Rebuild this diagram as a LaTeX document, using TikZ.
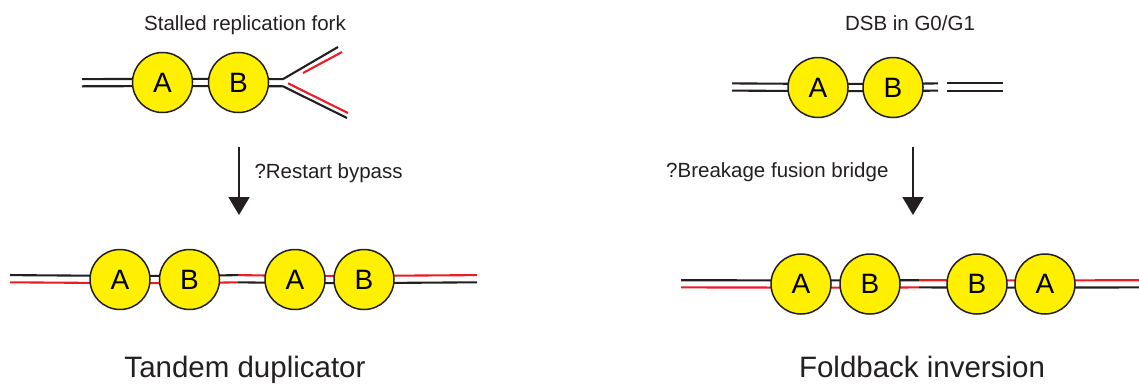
\documentclass[tikz,border=0pt]{standalone}
\usepackage{fontspec}
\setmainfont{Liberation Sans}
\usetikzlibrary{arrows.meta,backgrounds}
\definecolor{locusyellow}{RGB}{255,240,0}
\definecolor{strandred}{RGB}{237,28,36}
\definecolor{ink}{RGB}{35,31,32}
\tikzset{
  locus/.style={circle, draw=ink, line width=1.5pt, fill=locusyellow,
    minimum size=60pt, inner sep=0pt, font=\fontsize{28}{28}\selectfont},
  strand/.style={line width=2.1pt, draw=ink},
  rstrand/.style={line width=2.1pt, draw=strandred},
  caption/.style={anchor=base, font=\fontsize{20.5}{20.5}\selectfont, text=ink},
  heading/.style={anchor=base, font=\fontsize{29.5}{29.5}\selectfont, text=ink},
  pathway/.style={line width=1.9pt, draw=ink, -{Triangle[width=21pt,length=18pt]}},
  up/.style={yshift=3.6pt},
  dn/.style={yshift=-3.6pt}
}
\begin{document}
\begin{tikzpicture}[x=1pt,y=-1pt]
\useasboundingbox (0,0) rectangle (1139,386);

% ---------- stalled replication fork ----------
\node[caption] (t1) at (245,30.5) {Stalled replication fork};
\coordinate (tlL) at (82,82.7);
\coordinate (fork) at (283,82.7);
\coordinate (armU) at (338,47);
\coordinate (armD) at (347,118);
\coordinate (redU1) at (303,73);
\coordinate (redU2) at (342,52);
\coordinate (redD1) at (288,83.3);
\coordinate (redD2) at (348,113);
\node[locus] (tA) at (162.5,82.5) {A};
\node[locus] (tB) at (238.5,82.5) {B};
\begin{scope}[on background layer]
  \draw[strand] ([up]tlL) -- ([up]tA.center) -- ([up]tB.center) -- ([up]fork) -- (armU);
  \draw[strand] ([dn]tlL) -- ([dn]tA.center) -- ([dn]tB.center) -- ([dn]fork) -- (armD);
  \draw[rstrand] (redU1) -- (redU2);
  \draw[rstrand] (redD1) -- (redD2);
\end{scope}

\coordinate (p1) at (239,147);
\coordinate (p2) at (239,215);
\draw[pathway] (p1) -- (p2);
\node[caption, anchor=base west] (l1) at (251,178) {?Restart bypass};

% ---------- tandem duplicator ----------
\coordinate (bL) at (10,278.7);
\coordinate (bS) at (238,278.7);
\coordinate (bR) at (477,278.7);
\node[locus] (a1) at (120,279.5) {A};
\node[locus] (b1) at (189.5,279.5) {B};
\node[locus] (a2) at (295,279.5) {A};
\node[locus] (b2) at (364,279.5) {B};
\begin{scope}[on background layer]
  \draw[strand]  ([up]bL) -- ([up]a1.center) -- ([up]b1.center) -- ([up]bS);
  \draw[rstrand] ([dn]bL) -- ([dn]a1.center) -- ([dn]b1.center) -- ([dn]bS);
  \draw[rstrand] ([up]bS) -- ([up]a2.center) -- ([up]b2.center) -- ([up]bR);
  \draw[strand]  ([dn]bS) -- ([dn]a2.center) -- ([dn]b2.center) -- ([dn]bR);
\end{scope}
\node[heading] (h1) at (245,377) {Tandem duplicator};

% ---------- DSB in G0/G1 ----------
\node[caption] (t2) at (910,30) {DSB in G0/G1};
\coordinate (dL) at (732,87);
\coordinate (dE) at (938,87);
\coordinate (dS) at (947,87);
\coordinate (dR) at (1003,87);
\node[locus] (dA) at (818,87.5) {A};
\node[locus] (dB) at (893,87.5) {B};
\begin{scope}[on background layer]
  \draw[strand] ([up]dL) -- ([up]dA.center) -- ([up]dB.center) -- ([up]dE);
  \draw[strand] ([dn]dL) -- ([dn]dA.center) -- ([dn]dB.center) -- ([dn]dE);
  \draw[strand] ([up]dS) -- ([up]dR);
  \draw[strand] ([dn]dS) -- ([dn]dR);
\end{scope}

\coordinate (q1) at (913,147);
\coordinate (q2) at (913,215);
\draw[pathway] (q1) -- (q2);
\node[caption, anchor=base east] (l2) at (892,177) {?Breakage fusion bridge};

% ---------- foldback inversion ----------
\coordinate (fL) at (681,283.8);
\coordinate (fS) at (919,283.8);
\coordinate (fR) at (1139,283.8);
\node[locus] (c1) at (801,284) {A};
\node[locus] (c2) at (870,284) {B};
\node[locus] (c3) at (977,284) {B};
\node[locus] (c4) at (1045,284) {A};
\begin{scope}[on background layer]
  \draw[strand]  ([up]fL) -- ([up]c1.center) -- ([up]c2.center) -- ([up]fS);
  \draw[rstrand] ([dn]fL) -- ([dn]c1.center) -- ([dn]c2.center) -- ([dn]fS);
  \draw[rstrand] ([up]fS) -- ([up]c3.center) -- ([up]c4.center) -- ([up]fR);
  \draw[strand]  ([dn]fS) -- ([dn]c3.center) -- ([dn]c4.center) -- ([dn]fR);
\end{scope}
\node[heading] (h2) at (922,377) {Foldback inversion};
\end{tikzpicture}
\end{document}
